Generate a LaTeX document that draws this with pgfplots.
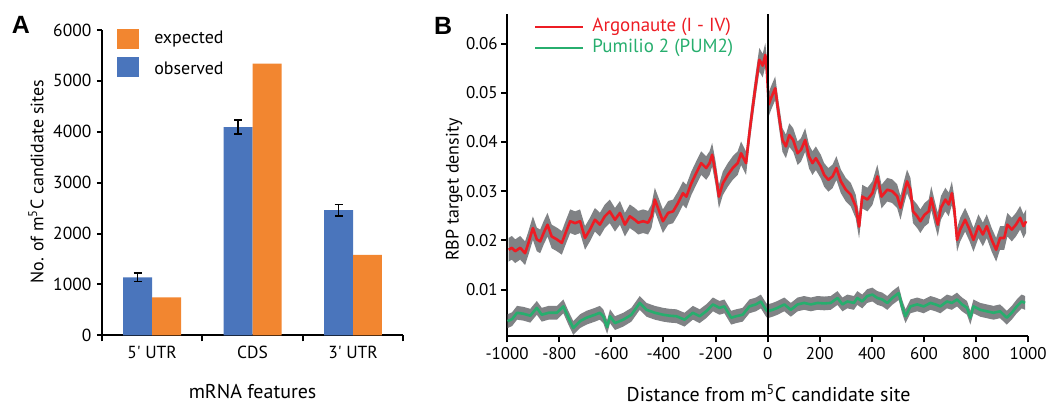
\documentclass[border=0pt]{standalone}
\usepackage{fontspec}
\setmainfont{PT Sans}
\newfontfamily\helv{Liberation Sans}
\usepackage{pgfplots}
\pgfplotsset{compat=1.18}
\usepackage{pgfplotstable}
\usepgfplotslibrary{fillbetween}
\definecolor{obsblue}{RGB}{74,117,188}
\definecolor{expor}{RGB}{242,134,48}
\definecolor{argred}{RGB}{237,28,36}
\definecolor{pumgreen}{RGB}{39,174,110}
\definecolor{band}{RGB}{128,130,133}
\newcommand{\fs}[1]{\fontsize{#1}{#1}\selectfont}

% Argonaute (I - IV) density
\pgfplotstableread{
d v
-994 0.0181
-982 0.0185
-969 0.0178
-950 0.0185
-931 0.0174
-918 0.0195
-901 0.0225
-886 0.0202
-873 0.0198
-860 0.0215
-845 0.0232
-829 0.0208
-809 0.0202
-790 0.0195
-778 0.0212
-758 0.0239
-739 0.0235
-720 0.0239
-701 0.0205
-682 0.0222
-663 0.0242
-644 0.0232
-625 0.0249
-606 0.0259
-586 0.0242
-567 0.0256
-548 0.0232
-529 0.0249
-510 0.0242
-497 0.0236
-478 0.0239
-459 0.0236
-446 0.0249
-433 0.0283
-414 0.0256
-402 0.0239
-382 0.0256
-363 0.0259
-344 0.0276
-325 0.0296
-312 0.0289
-293 0.0316
-274 0.0337
-255 0.0357
-236 0.0347
-223 0.0357
-213 0.0374
-200 0.0337
-187 0.0289
-172 0.0316
-153 0.0333
-134 0.0347
-115 0.0357
-102 0.0377
-83 0.0357
-70 0.0418
-57 0.0472
-45 0.0519
-32 0.0567
-19 0.0555
-9 0.0577
-3 0.0545
4 0.0476
13 0.0489
29 0.0509
42 0.0458
57 0.0404
70 0.0391
83 0.0414
98 0.0404
115 0.0377
128 0.0384
144 0.0404
159 0.0370
172 0.0357
185 0.0367
204 0.0350
217 0.0333
233 0.0323
249 0.0330
264 0.0347
281 0.0320
300 0.0303
319 0.0293
338 0.0269
351 0.0228
363 0.0289
383 0.0283
402 0.0296
421 0.0330
437 0.0289
459 0.0303
478 0.0300
497 0.0290
510 0.0266
523 0.0296
535 0.0320
548 0.0303
558 0.0259
574 0.0249
586 0.0239
602 0.0252
618 0.0259
628 0.0286
640 0.0259
653 0.0232
665 0.0266
682 0.0283
695 0.0273
707 0.0296
716 0.0266
727 0.0201
739 0.0222
758 0.0242
775 0.0222
790 0.0201
809 0.0229
826 0.0212
841 0.0229
860 0.0201
877 0.0181
892 0.0205
908 0.0205
920 0.0232
937 0.0222
953 0.0232
969 0.0246
982 0.0229
992 0.0239
}\argo

% Pumilio 2 (PUM2) density
\pgfplotstableread{
d v
-998 0.0036
-981 0.0040
-962 0.0053
-937 0.0051
-911 0.0047
-886 0.0063
-867 0.0049
-841 0.0053
-809 0.0053
-784 0.0066
-765 0.0043
-746 0.0022
-720 0.0036
-695 0.0043
-663 0.0049
-644 0.0053
-631 0.0046
-616 0.0024
-605 0.0046
-586 0.0032
-554 0.0039
-523 0.0049
-491 0.0073
-465 0.0059
-433 0.0053
-401 0.0049
-376 0.0047
-350 0.0046
-319 0.0039
-287 0.0053
-261 0.0046
-236 0.0056
-210 0.0070
-185 0.0063
-166 0.0066
-140 0.0043
-121 0.0046
-96 0.0049
-70 0.0066
-45 0.0070
-26 0.0076
-6 0.0059
0 0.0056
19 0.0059
38 0.0063
64 0.0070
89 0.0059
115 0.0070
140 0.0073
166 0.0070
191 0.0073
217 0.0072
242 0.0073
268 0.0083
287 0.0070
306 0.0076
331 0.0073
344 0.0083
363 0.0076
382 0.0087
402 0.0090
421 0.0083
440 0.0080
459 0.0073
478 0.0083
503 0.0093
516 0.0066
529 0.0046
548 0.0066
574 0.0070
599 0.0066
625 0.0073
644 0.0070
663 0.0066
688 0.0076
707 0.0073
727 0.0080
746 0.0070
765 0.0063
778 0.0043
790 0.0066
816 0.0059
841 0.0056
867 0.0053
892 0.0056
918 0.0043
937 0.0053
956 0.0066
975 0.0076
988 0.0073
}\pum

\begin{document}
\begin{tikzpicture}
\path (0,0) rectangle (1050bp,404bp);

% ---- panel A
\begin{axis}[
  at={(102bp,68bp)}, anchor=south west,
  scale only axis, width=302bp, height=306bp,
  xmin=-0.5, xmax=2.5, ymin=0, ymax=6000,
  axis x line=bottom, axis y line=left,
  axis line style={-, line width=2bp},
  tick align=outside,
  tick style={line width=2bp, black},
  major tick length=5bp, minor tick length=6bp,
  xtick={0,1,2}, xticklabels={5\textquotesingle\ UTR, CDS, 3\textquotesingle\ UTR},
  major x tick style={draw=none},
  minor xtick={-0.5,0.5,1.5,2.5},
  ytick={0,1000,...,6000},
  tick label style={font=\fs{17.5bp}},
  /pgf/number format/assume math mode=true,
  /pgf/number format/1000 sep={},
  xticklabel style={yshift=-2bp},
  yticklabel style={xshift=-2bp},
  ybar=0pt, bar width=29bp,
  clip=false,
]
\addplot[fill=obsblue, draw=none,
  error bars/.cd, y dir=both, y explicit,
  error bar style={line width=1.6bp, black},
  error mark options={rotate=90, mark size=4bp, line width=1.6bp, black}]
  coordinates {(0,1140) +- (0,80) (1,4090) +- (0,137) (2,2460) +- (0,110)};
\addplot[fill=expor, draw=none]
  coordinates {(0,745) (1,5340) (2,1580)};
\end{axis}

% legend A
\fill[expor] (117bp,355bp) rectangle (139bp,375bp);
\fill[obsblue] (117bp,327bp) rectangle (139bp,347bp);
\node[anchor=west, font=\fs{18bp}] at (151bp,365bp) {expected};
\node[anchor=west, font=\fs{18bp}] at (151bp,336bp) {observed};
\node[rotate=90, font=\fs{18bp}] at (36bp,222bp) {No. of m\textsuperscript{5}C candidate sites};
\node[font=\fs{20bp}] at (253bp,12bp) {mRNA features};
\node[font=\helv\bfseries\fs{25bp}] at (21bp,379bp) {A};

% ---- panel B
\begin{axis}[
  at={(508bp,67bp)}, anchor=south west,
  scale only axis, width=522bp, height=323bp,
  xmin=-1000, xmax=1000, ymin=0.0005, ymax=0.066,
  axis x line=bottom, axis y line=left,
  axis line style={-, line width=2bp},
  tick align=outside,
  tick style={line width=2bp, black},
  major tick length=6bp,
  xtick={-1000,-800,...,1000},
  ytick={0.01,0.02,0.03,0.04,0.05,0.06},
  scaled y ticks=false,
  tick label style={font=\fs{17bp}},
  /pgf/number format/assume math mode=true,
  /pgf/number format/1000 sep={},
  y tick label style={/pgf/number format/fixed,
    /pgf/number format/fixed zerofill, /pgf/number format/precision=2},
  xticklabel style={yshift=-2bp},
]
\addplot[draw=none, name path=ru] table[x=d, y expr=\thisrow{v}+0.0024] {\argo};
\addplot[draw=none, name path=rl] table[x=d, y expr=\thisrow{v}-0.0024] {\argo};
\addplot[band, draw=none] fill between[of=ru and rl];
\addplot[draw=none, name path=gu] table[x=d, y expr=\thisrow{v}+0.0014] {\pum};
\addplot[draw=none, name path=gl] table[x=d, y expr=\thisrow{v}-0.0014] {\pum};
\addplot[band, draw=none] fill between[of=gu and gl];
\addplot[argred, line width=2.6bp, line join=round] table[x=d, y=v] {\argo};
\addplot[pumgreen, line width=2.6bp, line join=round] table[x=d, y=v] {\pum};
\draw[black, line width=2bp] (axis cs:0,0.0005) -- (axis cs:0,0.066);
\end{axis}

% legend B
\draw[argred, line width=2.6bp] (536bp,377bp) -- (584bp,377bp);
\draw[pumgreen, line width=2.6bp] (536bp,356bp) -- (584bp,356bp);
\node[anchor=west, text=argred, font=\fs{19bp}] at (590bp,377bp) {Argonaute (I - IV)};
\node[anchor=west, text=pumgreen, font=\fs{19bp}] at (590bp,356bp) {Pumilio 2 (PUM2)};
\node[rotate=90, font=\fs{18bp}] at (455bp,214bp) {RBP target density};
\node[font=\fs{20bp}] at (770bp,10bp) {Distance from m\textsuperscript{5}C candidate site};
\node[font=\helv\bfseries\fs{25bp}] at (444bp,378bp) {B};
\end{tikzpicture}
\end{document}
